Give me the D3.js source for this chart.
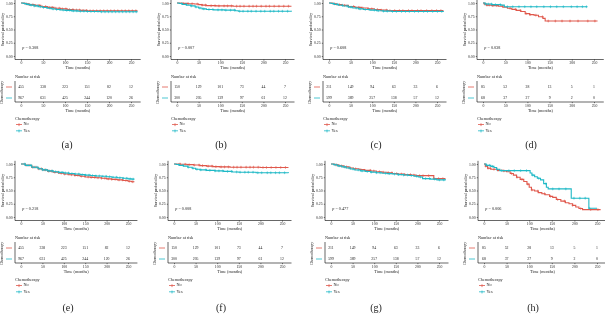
<!DOCTYPE html>
<html>
<head>
<meta charset="utf-8">
<script src="https://cdn.jsdelivr.net/npm/d3@7"></script>
<style>
  body { margin: 0; background: #fff; }
  svg { will-change: transform; }
  text { font-family: "Liberation Serif", serif; fill: #222; }
</style>
</head>
<body>
<script>
// panel labels and log-rank p values
const panelNames = ["(a)", "(b)", "(c)", "(d)", "(e)", "(f)", "(g)", "(h)"];
const pValues = ["0.308", "0.007", "0.608", "0.038", "0.218", "0.008", "0.477", "0.006"];
const timeTicks = [0, 50, 100, 150, 200, 250];
const survTicks = [0, 0.25, 0.5, 0.75, 1];
const groups = ["No", "Yes"];

// number at risk, one row per cohort (panels e-h reuse cohorts of a-d)
const riskNo = [[455, 338, 223, 151, 82, 12], [150, 129, 101, 73, 44, 7], [211, 149, 94, 63, 33, 6], [85, 52, 28, 13, 5, 1]];
const riskYes = [[967, 631, 425, 244, 120, 26], [300, 205, 139, 97, 61, 12], [599, 389, 257, 138, 57, 12], [68, 37, 27, 9, 2, 0]];

// KM steps [time, survival]
const curvesNo = [
  [[0,1],[8,0.985],[18,0.97],[30,0.955],[45,0.935],[60,0.917],[75,0.902],[90,0.89],[105,0.878],[120,0.868],[135,0.86],[150,0.855],[265,0.855]],
  [[0,1],[10,0.993],[25,0.987],[40,0.98],[50,0.97],[58,0.96],[68,0.95],[90,0.945],[130,0.94],[265,0.94]],
  [[0,1],[8,0.985],[18,0.97],[30,0.955],[45,0.935],[60,0.918],[75,0.905],[90,0.89],[105,0.878],[120,0.865],[135,0.858],[265,0.858]],
  [[0,1],[3,0.98],[8,0.96],[20,0.95],[35,0.94],[45,0.92],[55,0.9],[65,0.88],[75,0.86],[85,0.84],[95,0.8],[105,0.78],[115,0.77],[125,0.74],[135,0.71],[140,0.66],[258,0.66]],
  [[0,1],[10,0.975],[25,0.94],[40,0.91],[50,0.89],[62,0.865],[75,0.845],[88,0.825],[100,0.81],[112,0.797],[125,0.785],[138,0.77],[150,0.755],[162,0.748],[175,0.74],[188,0.73],[200,0.72],[212,0.71],[225,0.7],[238,0.688],[250,0.675],[258,0.665],[265,0.665]],
  [[0,1],[15,0.995],[30,0.988],[45,0.98],[60,0.97],[75,0.96],[90,0.95],[105,0.945],[130,0.94],[200,0.935],[265,0.935]],
  [[0,1],[8,0.985],[18,0.965],[30,0.945],[42,0.925],[52,0.91],[65,0.895],[78,0.88],[92,0.868],[105,0.855],[118,0.845],[130,0.835],[142,0.82],[155,0.81],[170,0.8],[185,0.79],[197,0.78],[238,0.725],[265,0.725]],
  [[0,1],[3,0.96],[8,0.92],[15,0.9],[30,0.88],[42,0.87],[50,0.855],[58,0.82],[65,0.79],[72,0.75],[80,0.71],[88,0.67],[95,0.62],[100,0.56],[105,0.51],[112,0.49],[120,0.46],[128,0.44],[135,0.42],[145,0.39],[152,0.37],[160,0.33],[170,0.3],[180,0.27],[188,0.25],[196,0.22],[203,0.19],[210,0.16],[218,0.14],[258,0.14]]
];
const curvesYes = [
  [[0,1],[5,0.99],[12,0.975],[20,0.96],[30,0.945],[40,0.93],[50,0.915],[60,0.9],[70,0.888],[80,0.877],[90,0.868],[100,0.86],[115,0.852],[130,0.845],[150,0.84],[180,0.834],[265,0.834]],
  [[0,1],[5,0.99],[12,0.975],[22,0.96],[32,0.945],[42,0.925],[50,0.905],[58,0.89],[68,0.878],[85,0.87],[110,0.865],[135,0.855],[142,0.845],[265,0.84]],
  [[0,1],[5,0.99],[12,0.975],[22,0.958],[32,0.942],[45,0.922],[55,0.905],[68,0.89],[80,0.878],[95,0.866],[110,0.855],[125,0.846],[145,0.84],[265,0.837]],
  [[0,1],[5,0.98],[20,0.97],[40,0.96],[48,0.93],[235,0.93]],
  [[0,1],[10,0.975],[25,0.94],[40,0.91],[50,0.89],[62,0.87],[75,0.855],[88,0.842],[100,0.83],[112,0.82],[125,0.81],[138,0.8],[150,0.79],[162,0.782],[175,0.775],[188,0.768],[200,0.76],[212,0.75],[225,0.74],[238,0.73],[250,0.72],[258,0.715],[265,0.715]],
  [[0,1],[5,0.99],[12,0.975],[22,0.96],[32,0.94],[42,0.92],[50,0.9],[60,0.89],[75,0.88],[95,0.87],[115,0.86],[135,0.85],[150,0.845],[190,0.835],[265,0.83]],
  [[0,1],[6,0.985],[15,0.965],[25,0.945],[35,0.925],[45,0.905],[55,0.888],[68,0.87],[80,0.858],[92,0.846],[105,0.835],[118,0.825],[130,0.818],[142,0.81],[155,0.8],[168,0.792],[180,0.782],[192,0.77],[202,0.755],[212,0.725],[230,0.715],[245,0.7],[265,0.695]],
  [[0,1],[5,0.975],[15,0.955],[22,0.935],[28,0.9],[35,0.875],[98,0.875],[102,0.83],[106,0.79],[112,0.76],[118,0.73],[125,0.7],[132,0.63],[138,0.56],[142,0.53],[192,0.53],[193,0.355],[231,0.355],[232,0.165],[250,0.165]]
];

// censoring times per cohort
const censorNo = [
  [12,19,27,33,41,48,56,64,71,79,87,94,102,110,118,126,133,141,149,157,164,172,180,188,196,204,212,220,229,237,245,253,261],
  [14,26,35,47,58,66,79,88,97,109,117,126,138,146,155,167,176,184,195,206,214,225,236,247,258],
  [13,24,36,45,57,69,78,91,99,112,121,133,141,152,163,171,184,192,205,213,226,238,249,259],
  [4,9,14,22,31,44,61,73,84,97,106,119,134,147,163,178,196,214,236,252]
];
const censorYes = [
  [9,16,23,30,37,44,51,58,66,73,81,88,96,104,111,119,127,135,143,151,159,167,175,183,191,199,207,215,223,231,239,247,255,262],
  [11,21,33,44,53,62,74,83,95,104,113,124,133,145,153,164,172,183,194,203,216,224,235,244,256],
  [10,19,31,42,51,63,72,84,93,105,114,126,135,147,156,168,177,186,198,207,219,228,240,251,261],
  [6,12,19,28,39,55,67,81,94,108,121,137,152,166,181,199,212,224,233]
];

const W = 605, H = 316;
const colors = ["#e0584c", "#1fb9c6"];
const axisX = [15, 171, 323, 477, 15, 168, 325, 478];
const plotW = [110, 108, 108, 111, 107, 108, 108, 113];
const labelX = [67, 221, 376, 531, 68, 221, 376, 533];
const labelY = [146, 309];

const svg = d3.select("body").append("svg").attr("width", W).attr("height", H);

function stepAt(curve, t) {
  let s = curve[0][1];
  for (const [ct, cs] of curve) { if (ct <= t) s = cs; }
  return s;
}

panelNames.forEach((name, i) => {
  const row = Math.floor(i / 4), cohort = i % 4;
  const gy = row * 161;
  const ax = axisX[i];
  const x = d3.scaleLinear().domain([0, 250]).range([ax + 6, ax + 6 + plotW[i]]);
  const y = d3.scaleLinear().domain([0, 1]).range([gy + 56, gy + 3]);
  const xEnd = x(272);
  const g = svg.append("g");

  // ---- survival plot axes
  const yAx = g.append("g").attr("transform", `translate(${ax},0)`)
    .call(d3.axisLeft(y).tickValues(survTicks).tickFormat(d3.format(".2f")).tickSize(1.2).tickPadding(1.2));
  yAx.select(".domain").remove();
  g.append("line").attr("x1", ax).attr("x2", ax).attr("y1", y(1.06)).attr("y2", gy + 59.5)
    .attr("stroke", "#000").attr("stroke-width", 0.6);

  const xAxY = gy + 59.5;
  const xAx = g.append("g").attr("transform", `translate(0,${xAxY})`)
    .call(d3.axisBottom(x).tickValues(timeTicks).tickSize(1.2).tickPadding(1));
  xAx.select(".domain").remove();
  g.append("line").attr("x1", ax).attr("x2", xEnd).attr("y1", xAxY).attr("y2", xAxY)
    .attr("stroke", "#000").attr("stroke-width", 0.6);

  [yAx, xAx].forEach(a => {
    a.attr("font-family", null).attr("font-size", null);
    a.selectAll("line").attr("stroke", "#000").attr("stroke-width", 0.5);
    a.selectAll("text").style("font-size", "3.8px");
  });

  g.append("text").attr("transform", `translate(${ax - 12},${y(0.5)}) rotate(-90)`)
    .attr("text-anchor", "middle").attr("dominant-baseline", "middle")
    .style("font-size", "4.2px").text("Survival probability");
  g.append("text").attr("x", (ax + xEnd) / 2).attr("y", gy + 68)
    .attr("text-anchor", "middle").attr("dominant-baseline", "middle")
    .style("font-size", "4.2px").text("Time (months)");

  // p value
  const pt = g.append("text").attr("x", x(3)).attr("y", y(0.16))
    .attr("dominant-baseline", "middle").style("font-size", "4.2px");
  pt.append("tspan").style("font-style", "italic").text("p");
  pt.append("tspan").text(" = " + pValues[i]);

  // ---- curves
  const line = d3.line().x(d => x(d[0])).y(d => y(d[1])).curve(d3.curveStepAfter);
  [curvesNo[i], curvesYes[i]].forEach((curve, k) => {
    g.append("path").attr("d", line(curve)).attr("fill", "none")
      .attr("stroke", colors[k]).attr("stroke-width", 1.1);
    const tMax = curve[curve.length - 1][0];
    const cens = (k === 0 ? censorNo : censorYes)[cohort].filter(t => t <= tMax);
    g.append("path")
      .attr("d", cens.map(t => {
        const cx = x(t), cy = y(stepAt(curve, t));
        return `M${cx},${cy - 1.4}V${cy + 1.4}M${cx - 1.1},${cy}H${cx + 1.1}`;
      }).join(""))
      .attr("fill", "none").attr("stroke", colors[k]).attr("stroke-width", 0.55);
  });

  // ---- risk table
  g.append("text").attr("x", ax).attr("y", gy + 77).attr("dominant-baseline", "middle")
    .style("font-size", "4.2px").text("Number at risk");
  const rowY = [gy + 87, gy + 98];
  [riskNo[cohort], riskYes[cohort]].forEach((vals, k) => {
    g.selectAll(null).data(vals).join("text")
      .attr("x", (d, j) => x(timeTicks[j])).attr("y", rowY[k])
      .attr("text-anchor", "middle").attr("dominant-baseline", "middle")
      .style("font-size", "3.8px").text(d => d);
    g.append("line").attr("x1", ax - 9).attr("x2", ax - 3).attr("y1", rowY[k]).attr("y2", rowY[k])
      .attr("stroke", colors[k]).attr("stroke-width", 0.8);
  });
  g.append("text").attr("transform", `translate(${ax - 13},${gy + 92.5}) rotate(-90)`)
    .attr("text-anchor", "middle").attr("dominant-baseline", "middle")
    .style("font-size", "4px").text("Chemotherapy");
  const rAxY = gy + 102;
  g.append("line").attr("x1", ax).attr("x2", ax).attr("y1", gy + 81).attr("y2", rAxY)
    .attr("stroke", "#000").attr("stroke-width", 0.6);
  const rAx = g.append("g").attr("transform", `translate(0,${rAxY})`)
    .call(d3.axisBottom(x).tickValues(timeTicks).tickSize(1.2).tickPadding(1));
  rAx.select(".domain").remove();
  rAx.attr("font-family", null).attr("font-size", null);
  rAx.selectAll("line").attr("stroke", "#000").attr("stroke-width", 0.5);
  rAx.selectAll("text").style("font-size", "3.8px");
  g.append("line").attr("x1", ax).attr("x2", xEnd).attr("y1", rAxY).attr("y2", rAxY)
    .attr("stroke", "#000").attr("stroke-width", 0.6);
  g.append("text").attr("x", (ax + xEnd) / 2).attr("y", gy + 111)
    .attr("text-anchor", "middle").attr("dominant-baseline", "middle")
    .style("font-size", "4.2px").text("Time (months)");

  // ---- legend
  g.append("text").attr("x", ax).attr("y", gy + 119).attr("dominant-baseline", "middle")
    .style("font-size", "4.2px").text("Chemotherapy");
  groups.forEach((lab, k) => {
    const ly = gy + 124.5 + k * 6.3;
    g.append("path")
      .attr("d", `M${ax + 1},${ly}H${ax + 7}M${ax + 4},${ly - 1.2}V${ly + 1.6}`)
      .attr("stroke", colors[k]).attr("stroke-width", 0.8).attr("fill", "none");
    g.append("text").attr("x", ax + 8.5).attr("y", ly).attr("dominant-baseline", "middle")
      .style("font-size", "4.2px").text(lab);
  });

  // panel label
  g.append("text").attr("x", labelX[i]).attr("y", labelY[row])
    .attr("text-anchor", "middle").attr("dominant-baseline", "middle")
    .style("font-size", "10px").text(name);
});
</script>
</body>
</html>
